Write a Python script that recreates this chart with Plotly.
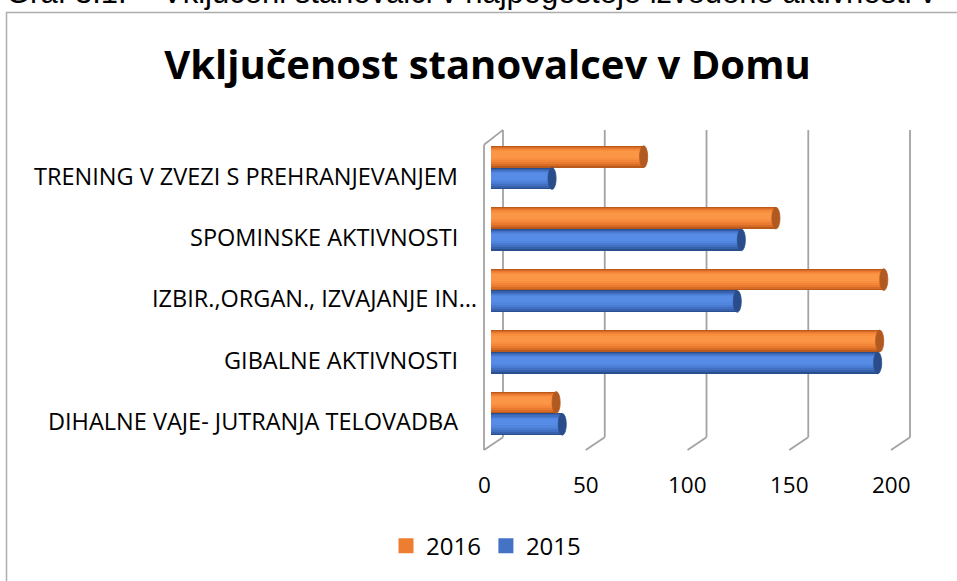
import plotly.graph_objects as go

# ---------------- data ----------------
categories = [
    "DIHALNE VAJE- JUTRANJA TELOVADBA",
    "GIBALNE AKTIVNOSTI",
    "IZBIR.,ORGAN., IZVAJANJE IN…",
    "SPOMINSKE AKTIVNOSTI",
    "TRENING V ZVEZI S PREHRANJEVANJEM",
]
values_2016 = [32, 191, 193, 140, 75]
values_2015 = [35, 190, 121, 123, 30]
series_names = ["2016", "2015"]
x_ticks = [0, 50, 100, 150, 200]
title_text = "Vključenost stanovalcev v Domu"
doc_caption_a = "Graf 3.1:"
doc_caption_b = "Vključeni stanovalci v najpogosteje izvedene aktivnosti v"

# ---------------- geometry / style ----------------
W, H = 957, 581
L, R, T, B = 470, 27, 120, 121
plot_w = W - L - R
plot_h = H - T - B
X_RANGE = [-10.32, 215.72]
Y_RANGE = [-0.7097, 4.7742]
BAR_W = 0.355
DEPTH_BACK = 5.9      # x-offset of back wall in data units
DEPTH_FRONT = -3.44   # x-offset of front edge
Y_BACK_TOP = 4.613
Y_FRONT_TOP = 4.371
Y_BACK_BOT = -0.387
Y_FRONT_BOT = -0.597
CAP = 2.0
GRID = "#a3a3a3"
FONT = "Open Sans"

pos = list(range(len(categories)))

styles = {
    "2016": dict(shades=["#b9591c", "#d86c27", "#e97a30", "#f28537", "#f78f3e", "#fa9645"],
                 cap="#b05a22", edge="#b9591c", legend="#ED7D31"),
    "2015": dict(shades=["#2a4f8f", "#3761ad", "#416fc2", "#4a7bd3", "#5185de", "#578ce6"],
                 cap="#2a4c8a", edge="#2a4f8f", legend="#4472C4"),
}
LAYER_WIDTHS = [1.0, 0.88, 0.74, 0.6, 0.46, 0.3]
LAYER_SHIFTS = [0.0, 0.006, 0.012, 0.02, 0.028, 0.036]

fig = go.Figure()
shapes = []

# walls / gridlines
for v in x_ticks:
    shapes.append(dict(type="line", xref="x", yref="y", x0=v + DEPTH_BACK, x1=v + DEPTH_BACK,
                       y0=Y_BACK_BOT, y1=Y_BACK_TOP, line=dict(color=GRID, width=1.8), layer="below"))
    shapes.append(dict(type="line", xref="x", yref="y", x0=v + DEPTH_FRONT, x1=v + DEPTH_BACK,
                       y0=Y_FRONT_BOT, y1=Y_BACK_BOT, line=dict(color=GRID, width=1.8), layer="below"))
shapes.append(dict(type="line", xref="x", yref="y", x0=DEPTH_FRONT, x1=DEPTH_FRONT,
                   y0=Y_FRONT_BOT, y1=Y_FRONT_TOP, line=dict(color=GRID, width=1.8), layer="below"))
shapes.append(dict(type="line", xref="x", yref="y", x0=DEPTH_FRONT, x1=DEPTH_BACK,
                   y0=Y_FRONT_TOP, y1=Y_BACK_TOP, line=dict(color=GRID, width=1.8), layer="below"))

def add_cylinders(name, vals, offset):
    st = styles[name]
    center = offset + BAR_W / 2
    for color, frac, shift in zip(st["shades"], LAYER_WIDTHS, LAYER_SHIFTS):
        w = BAR_W * frac
        fig.add_trace(go.Bar(
            y=pos, x=vals, orientation="h", name=name,
            width=w, offset=center + shift - w / 2,
            marker=dict(color=color, line=dict(width=0)),
            showlegend=False, legendgroup=name, hoverinfo="x",
        ))
    for p, v in zip(pos, vals):
        shapes.append(dict(type="circle", xref="x", yref="y",
                           x0=v - CAP, x1=v + CAP,
                           y0=p + offset, y1=p + offset + BAR_W,
                           fillcolor=st["cap"], line=dict(color=st["edge"], width=0.8),
                           layer="above"))

add_cylinders("2016", values_2016, 0.0)
add_cylinders("2015", values_2015, -BAR_W)

# legend entries (square swatches)
for name in series_names:
    fig.add_trace(go.Scatter(
        x=[None], y=[None], mode="markers", name=name, legendgroup=name,
        marker=dict(symbol="square", size=15, color=styles[name]["legend"]),
        showlegend=True,
    ))

# frame border of chart area
px2x = lambda px: (px - L) / plot_w
px2y = lambda py: (H - B - py) / plot_h
shapes.append(dict(type="rect", xref="paper", yref="paper",
                   x0=px2x(6.5), x1=px2x(1100), y0=px2y(700), y1=px2y(11.5),
                   line=dict(color="#adadad", width=1.5), fillcolor="rgba(0,0,0,0)", layer="below"))

annotations = []
# category labels
for p, c in zip(pos, categories):
    xr = 479 if c.endswith("…") else 460
    annotations.append(dict(text=c, xref="paper", yref="y", x=px2x(xr), y=p - 8 / 62,
                            xanchor="right", yanchor="middle", showarrow=False,
                            font=dict(family=FONT, size=23.5, color="#000000")))
# x tick labels
for v in x_ticks:
    annotations.append(dict(text=str(v), xref="x", yref="paper", x=v + DEPTH_FRONT, y=px2y(488),
                            xanchor="center", yanchor="middle", showarrow=False,
                            font=dict(family=FONT, size=22.5, color="#000000")))
# document caption (cut off at top of screenshot)
annotations.append(dict(text=doc_caption_a, xref="paper", yref="paper", x=px2x(4), y=px2y(11.5),
                        xanchor="left", yanchor="bottom", showarrow=False,
                        font=dict(family="Liberation Sans", size=31, color="#000000")))
annotations.append(dict(text=doc_caption_b, xref="paper", yref="paper", x=px2x(160), y=px2y(11.5),
                        xanchor="left", yanchor="bottom", showarrow=False,
                        font=dict(family="Liberation Sans", size=31, color="#000000")))

fig.update_layout(
    width=W, height=H,
    margin=dict(l=L, r=R, t=T, b=B),
    paper_bgcolor="white", plot_bgcolor="rgba(0,0,0,0)",
    barmode="overlay", bargap=0,
    title=dict(text="<b>" + title_text + "</b>", x=487.5 / W, xanchor="center",
               y=1 - 65 / H, yanchor="middle",
               font=dict(family=FONT, size=40, color="#000000")),
    xaxis=dict(range=X_RANGE, showgrid=False, zeroline=False, showticklabels=False,
               showline=False, ticks=""),
    yaxis=dict(range=Y_RANGE, showgrid=False, zeroline=False, showticklabels=False,
               showline=False, ticks=""),
    legend=dict(orientation="h", x=px2x(486), xanchor="center", y=px2y(550), yanchor="middle",
                font=dict(family=FONT, size=24, color="#000000"), traceorder="normal",
                itemsizing="trace", bgcolor="rgba(0,0,0,0)"),
    shapes=shapes,
    annotations=annotations,
    showlegend=True,
)

fig.write_html("out.html", config={"displayModeBar": False},
               post_script="document.body.style.margin='0';document.body.style.overflow='hidden';")
